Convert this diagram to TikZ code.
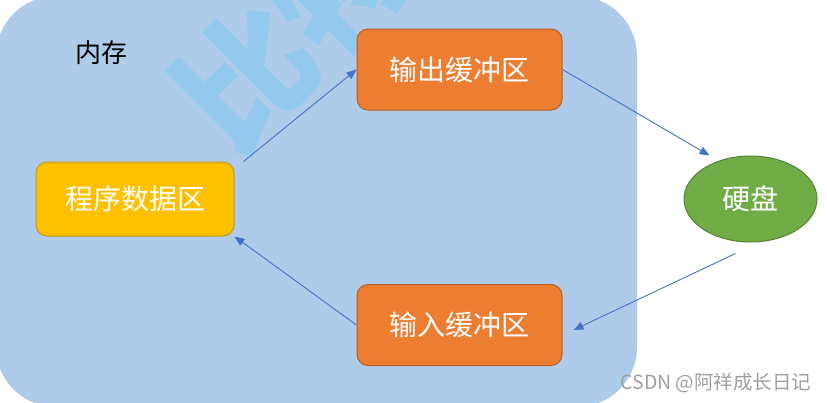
\documentclass[tikz,border=0pt]{standalone}
\usepackage{fontspec}
\setmainfont{Noto Sans CJK SC}
\newfontfamily\cjk{Noto Sans CJK SC}
\usetikzlibrary{arrows.meta,shapes.geometric}
\definecolor{memfill}{HTML}{AECCE9}
\definecolor{wmark}{HTML}{94C9EE}
\definecolor{orfill}{HTML}{ED7D31}
\definecolor{ordraw}{HTML}{B85E22}
\definecolor{yefill}{HTML}{FFC000}
\definecolor{yedraw}{HTML}{C09A20}
\definecolor{grfill}{HTML}{70AD47}
\definecolor{grdraw}{HTML}{548235}
\definecolor{arr}{HTML}{4472C4}
\tikzset{
  boxbase/.style={rectangle, rounded corners=11pt, line width=1pt, text=white,
    font=\cjk\fontsize{28}{32}\selectfont, inner sep=0pt},
  orbox/.style={boxbase, fill=orfill, draw=ordraw, minimum width=205pt, minimum height=81pt},
  yebox/.style={boxbase, fill=yefill, draw=yedraw, minimum width=198pt, minimum height=74pt},
  disk/.style={ellipse, fill=grfill, draw=grdraw, line width=1pt, text=white,
    font=\cjk\fontsize{28}{32}\selectfont, inner sep=0pt, minimum width=133pt, minimum height=86pt},
  flow/.style={draw=arr, line width=0.9pt, -{Triangle[length=10pt,width=8pt]}}
}
\begin{document}
\begin{tikzpicture}[x=1pt,y=-1pt]
\useasboundingbox (0,0) rectangle (827,402);
\begin{scope}
\clip (0,0) rectangle (827,402);
\fill[memfill, rounded corners=60pt] (-4,-4) rectangle (637,407);
\node[rotate=45, text=wmark, font=\cjk\bfseries\fontsize{132}{150}\selectfont, inner sep=0pt] (wm) at (292,30) {比特};
\end{scope}
\node[font=\cjk\fontsize{26}{30}\selectfont, inner sep=0pt] (mem) at (101,53) {内存};
\node[yebox] (prog) at (135,199) {程序数据区};
\node[orbox] (out) at (459.5,69.5) {输出缓冲区};
\node[orbox] (in) at (459.5,325) {输入缓冲区};
\node[disk] (hd) at (750.5,199) {硬盘};
\draw[flow] ([shift={(9,0)}]prog.north east) -- (out.west);
\draw[flow] (out.east) -- ([shift={(-41,0)}]hd.north);
\draw[flow] ([shift={(-15,11)}]hd.south) -- ([shift={(11,5)}]in.east);
\draw[flow] (in.west) -- (prog.south east);
\node[text=gray!75, font=\cjk\fontsize{19.5}{22}\selectfont, inner sep=0pt] (csdn) at (716,383) {CSDN @阿祥成长日记};
\end{tikzpicture}
\end{document}
